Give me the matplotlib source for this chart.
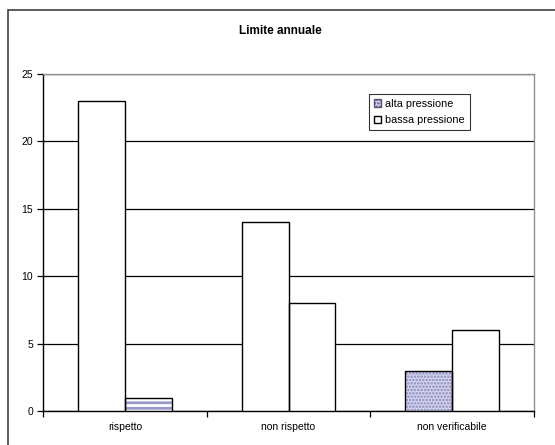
import matplotlib.pyplot as plt
import matplotlib.patches as mpatches
import numpy as np

plt.rcParams['font.family'] = ['Liberation Sans', 'DejaVu Sans']
plt.rcParams['hatch.linewidth'] = 1.2

categories = ['rispetto', 'non rispetto', 'non verificabile']
alta = [23, 14, 3]
bassa = [1, 8, 6]
# per-bar fill patterns as seen in the original sheet
alta_style = ['white', 'white', 'dots']
bassa_style = ['stripes', 'white', 'white']

fig = plt.figure(figsize=(5.55, 4.45), dpi=100)
# chart area border
fig.patches.append(mpatches.Rectangle((8 / 555, -0.1), 1.2, 1 - 10 / 445 + 0.1,
                                      transform=fig.transFigure, fill=False,
                                      edgecolor='#404040', linewidth=1.2))

ax = fig.add_axes([43 / 555, 1 - 411 / 445, (534 - 43) / 555, (411 - 74) / 445])

x = np.arange(len(categories))
w = 0.287


def draw(xpos, val, style):
    if style == 'dots':
        ax.bar(xpos, val, w, color='#d4d4ee', edgecolor='#8888bb', hatch='.....',
               linewidth=0, zorder=3)
    elif style == 'stripes':
        with plt.rc_context({'hatch.linewidth': 2.0}):
            ax.bar(xpos, val, w, color='white', edgecolor='#9a9acc', hatch='---',
                   linewidth=0, zorder=3)
    else:
        ax.bar(xpos, val, w, color='white', linewidth=0, zorder=3)
    ax.bar(xpos, val, w, fill=False, edgecolor='black', linewidth=1.0, zorder=4)


for i in range(len(categories)):
    draw(x[i] - w / 2, alta[i], alta_style[i])
    draw(x[i] + w / 2, bassa[i], bassa_style[i])

ax.set_xlim(-0.5, 2.5)
ax.set_ylim(0, 25)
ax.set_yticks([0, 5, 10, 15, 20, 25])
ax.yaxis.grid(True, color='black', linewidth=0.9, zorder=1)
ax.set_axisbelow(True)

ax.set_xticks(x)
ax.set_xticklabels(categories)
ax.set_xticks([-0.5, 0.5, 1.5, 2.5], minor=True)
ax.tick_params(axis='x', which='major', length=0, pad=8, labelsize=7.5)
ax.tick_params(axis='x', which='minor', length=4, width=0.9)
ax.tick_params(axis='y', length=4, width=0.9, pad=3, labelsize=7.5)

ax.spines['left'].set_color('black')
ax.spines['bottom'].set_color('black')
ax.spines['top'].set_color('#909090')
ax.spines['right'].set_color('#909090')
for s in ax.spines.values():
    s.set_linewidth(1.0)

fig.text(280 / 555, 1 - 31 / 445, 'Limite annuale', ha='center', va='center',
         fontsize=8.5, fontweight='bold')

h_alta = mpatches.Patch(facecolor='#d4d4ee', edgecolor='#555577', hatch='.....')
h_bassa = mpatches.Patch(facecolor='white', edgecolor='black')
leg = ax.legend([h_alta, h_bassa], ['alta pressione', 'bassa pressione'],
                loc='upper left', bbox_to_anchor=((369 - 43) / 491, 1 - (94 - 74) / 337),
                fontsize=7.8, frameon=True, fancybox=False, borderpad=0.45,
                handlelength=0.65, handleheight=0.65, handletextpad=0.4,
                labelspacing=0.6, borderaxespad=0)
leg.get_frame().set_edgecolor('black')
leg.get_frame().set_linewidth(0.8)

fig.savefig('out.png', dpi=100)
